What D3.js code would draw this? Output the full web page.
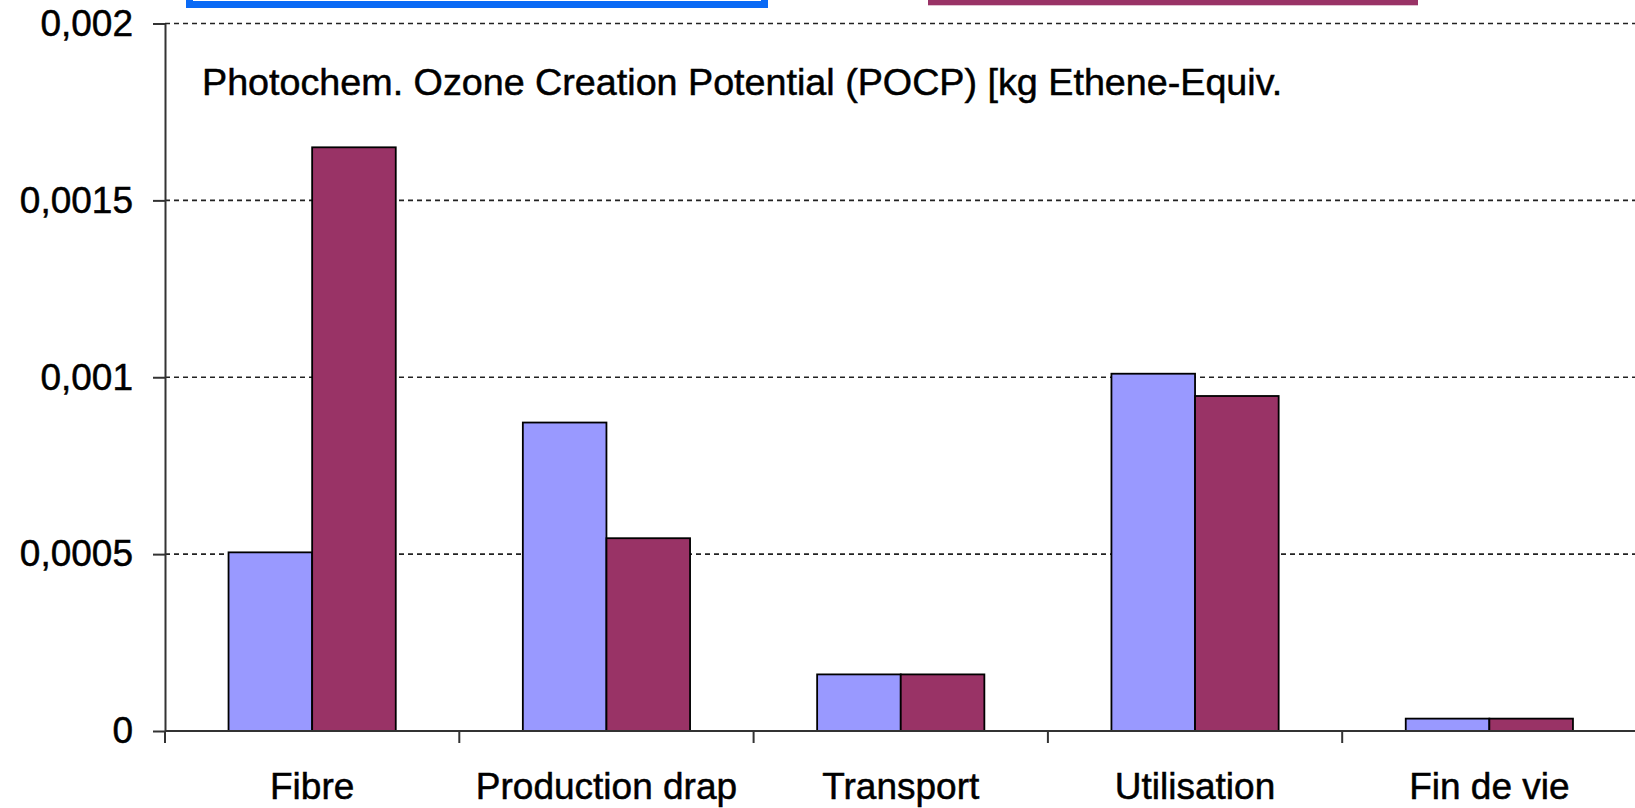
<!DOCTYPE html>
<html lang="fr">
<head>
<meta charset="utf-8">
<title>POCP</title>
<script src="https://cdn.jsdelivr.net/npm/d3@7"></script>
<style>
  html, body { margin: 0; padding: 0; background: #fff; overflow: hidden; }
  svg { display: block; font-family: "Liberation Sans", Arial, sans-serif; }
  text { stroke: #000; stroke-width: 0.5px; }
</style>
</head>
<body>
<svg id="chart" width="1635" height="808"></svg>
<script>
// Life-cycle stages and photochemical ozone creation potential per stage
const categories = ["Fibre", "Production drap", "Transport", "Utilisation", "Fin de vie"];
const seriesNames = ["Série 1", "Série 2"];
const series1 = [0.000505, 0.000872, 0.00016, 0.00101, 0.000035];
const series2 = [0.00165, 0.000545, 0.00016, 0.000947, 0.000035];
const seriesColors = ["#9999ff", "#993366"];
const yTicks = [0, 0.0005, 0.001, 0.0015, 0.002];
const title = "Photochem. Ozone Creation Potential (POCP) [kg Ethene-Equiv.";

(function draw() {
  const svg = d3.select("#chart");
  const W = 1635;
  const plotLeft = 165, plotRight = 1636.5, plotTop = 23.5, plotBottom = 731;
  const FONT = 37;

  const fr = d3.formatLocale({ decimal: ",", thousands: ".", grouping: [3], currency: ["", " €"] });
  const fmt = fr.format("~g");

  const x = d3.scaleBand().domain(categories).range([plotLeft, plotRight]).paddingInner(0).paddingOuter(0);
  const xs = d3.scaleBand().domain(seriesNames).range([0, x.bandwidth()]).paddingInner(0).paddingOuter(0.76);
  const y = d3.scaleLinear().domain([0, 0.002]).range([plotBottom, plotTop]);

  // frames along the top edge
  svg.append("rect")
    .attr("x", 189.5).attr("y", -60).attr("width", 575).attr("height", 64.5)
    .attr("fill", "none").attr("stroke", "#0a6af5").attr("stroke-width", 7);
  svg.append("rect")
    .attr("x", 928).attr("y", -60).attr("width", 490).attr("height", 65.3)
    .attr("fill", seriesColors[1]);

  // dashed gridlines
  svg.append("g").selectAll("line")
    .data(yTicks.filter(d => d > 0))
    .join("line")
    .attr("x1", plotLeft).attr("x2", W)
    .attr("y1", d => y(d)).attr("y2", d => y(d))
    .attr("stroke", "#222").attr("stroke-width", 1.6)
    .attr("stroke-dasharray", "5,4");

  // title inside plot
  svg.append("text")
    .attr("x", 202).attr("y", 95)
    .attr("font-size", 37.7).attr("fill", "#000")
    .text(title);

  // bars
  const rows = categories.map((c, i) => ({ cat: c, vals: [series1[i], series2[i]] }));
  const groups = svg.append("g").selectAll("g")
    .data(rows).join("g")
    .attr("transform", d => `translate(${x(d.cat)},0)`);
  groups.selectAll("rect")
    .data(d => d.vals.map((v, j) => ({ v, s: seriesNames[j], j })))
    .join("rect")
    .attr("x", d => xs(d.s))
    .attr("width", xs.bandwidth())
    .attr("y", d => y(d.v))
    .attr("height", d => plotBottom - y(d.v))
    .attr("fill", d => seriesColors[d.j])
    .attr("stroke", "#000").attr("stroke-width", 1.8);

  // y axis
  const yAxis = d3.axisLeft(y).tickValues(yTicks).tickFormat(fmt).tickSize(12).tickSizeOuter(0).tickPadding(20);
  const gy = svg.append("g").attr("transform", `translate(${plotLeft},0)`).call(yAxis);
  gy.select(".domain").attr("stroke", "#333").attr("stroke-width", 2);
  gy.selectAll(".tick line").attr("stroke", "#333").attr("stroke-width", 2);
  gy.selectAll(".tick text").attr("font-size", FONT).attr("font-family", "Liberation Sans, Arial, sans-serif").attr("fill", "#000");

  // x axis: labels centred in each band, tick marks on band edges
  const xAxis = d3.axisBottom(x).tickSize(0).tickPadding(42);
  const gx = svg.append("g").attr("transform", `translate(0,${plotBottom})`).call(xAxis);
  gx.select(".domain").remove();
  gx.selectAll(".tick text").attr("font-size", FONT).attr("font-family", "Liberation Sans, Arial, sans-serif").attr("fill", "#000");
  gx.append("line").attr("x1", plotLeft).attr("x2", W).attr("y1", 0).attr("y2", 0)
    .attr("stroke", "#333").attr("stroke-width", 2);
  const edges = categories.map(c => x(c)).concat([x(categories[categories.length - 1]) + x.bandwidth()]);
  gx.selectAll(".edge").data(edges).join("line").attr("class", "edge")
    .attr("x1", d => d).attr("x2", d => d).attr("y1", 0).attr("y2", 12)
    .attr("stroke", "#333").attr("stroke-width", 2);
})();
</script>
</body>
</html>
